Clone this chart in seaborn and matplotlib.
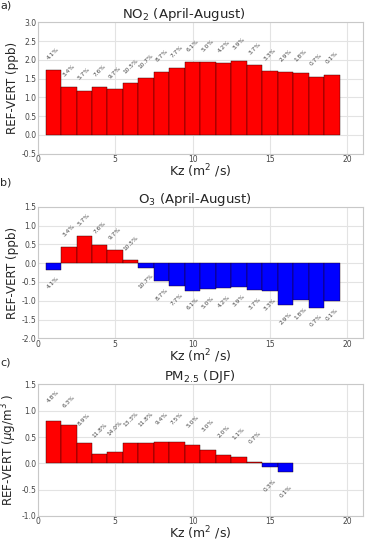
import numpy as np
import pandas as pd
import matplotlib.pyplot as plt
import seaborn as sns

kz = list(range(1, 20))

no2_vals = [1.72, 1.27, 1.18, 1.27, 1.21, 1.38, 1.52, 1.67, 1.77, 1.93,
            1.93, 1.91, 1.98, 1.85, 1.69, 1.67, 1.65, 1.55, 1.60]
o3_vals = [-0.17, 0.43, 0.72, 0.49, 0.35, 0.08, -0.12, -0.47, -0.62, -0.73,
           -0.68, -0.66, -0.64, -0.72, -0.73, -1.12, -0.98, -1.18, -1.02]
summer_pct = ['4.1%', '3.4%', '5.7%', '7.6%', '9.7%', '10.5%', '10.7%', '8.7%', '7.7%', '6.1%',
              '5.0%', '4.2%', '3.9%', '3.7%', '3.3%', '2.9%', '1.8%', '0.7%', '0.1%']

pm_kz = list(range(1, 17))
pm_vals = [0.81, 0.73, 0.39, 0.17, 0.22, 0.39, 0.38, 0.40, 0.40, 0.34,
           0.26, 0.16, 0.12, 0.03, -0.07, -0.17]
pm_pct = ['4.8%', '6.3%', '8.9%', '11.8%', '14.0%', '13.3%', '11.8%', '9.4%', '7.5%', '5.0%',
          '3.0%', '2.0%', '1.1%', '0.7%', '0.3%', '0.1%']

panels = [
    ('a)', 'NO$_2$ (April-August)', 'REF-VERT (ppb)', kz, no2_vals, summer_pct, (-0.5, 3.0)),
    ('b)', 'O$_3$ (April-August)', 'REF-VERT (ppb)', kz, o3_vals, summer_pct, (-2.0, 1.5)),
    ('c)', 'PM$_{2.5}$ (DJF)', 'REF-VERT ($\\mu$g/m$^3$ )', pm_kz, pm_vals, pm_pct, (-1.0, 1.5)),
]

sns.set_style('whitegrid', {'grid.color': '#e3e3e3', 'axes.edgecolor': '#c8c8c8'})
plt.rcParams['font.family'] = ['DejaVu Sans']

fig = plt.figure(figsize=(3.71, 5.43), dpi=100)
tops = [0.959, 0.619, 0.292]
tag_y = [1.0, 0.674, 0.341]
title_x = [0.449, 0.483, 0.5]
height = 0.242

for (tag, title, ylab, x, vals, pct, ylim), top, ty, tx in zip(panels, tops, tag_y, title_x):
    ax = fig.add_axes([0.102, top - height, 0.876, height])
    df = pd.DataFrame({'kz': x, 'diff': vals})
    df['sign'] = np.where(df['diff'] >= 0, 'pos', 'neg')
    sns.barplot(data=df, x='kz', y='diff', hue='sign', native_scale=True,
                palette={'pos': '#ff0000', 'neg': '#0000ff'}, dodge=False,
                width=1.0, errorbar=None, legend=False, saturation=1,
                edgecolor='#200000', linewidth=0.3, ax=ax)
    # percentage of samples in each Kz bin
    for xi, v, lab in zip(x, vals, pct):
        yy = v + 0.45 if v >= 0 else v - 0.36
        ax.text(xi, yy, lab, rotation=45, ha='center', va='center',
                fontsize=4.2, color='#444444')
    ax.set_xlim(0, 21)
    ax.set_ylim(*ylim)
    ax.set_xticks([0, 5, 10, 15, 20])
    ax.set_yticks(np.arange(ylim[0], ylim[1] + 0.01, 0.5))
    ax.yaxis.set_major_formatter(plt.FormatStrFormatter('%.1f'))
    ax.tick_params(axis='both', labelsize=5.5, pad=1, colors='#444444', length=0)
    ax.set_xlabel('Kz (m$^2$ /s)', fontsize=9, labelpad=-1)
    ax.set_ylabel(ylab, fontsize=8.6, labelpad=2)
    ax.set_title(title, fontsize=9.5, pad=3, x=tx)
    for s in ax.spines.values():
        s.set_linewidth(0.8)
    fig.text(0.0, ty, tag, fontsize=8, ha='left', va='top')

fig.savefig('out.png', dpi=100)
